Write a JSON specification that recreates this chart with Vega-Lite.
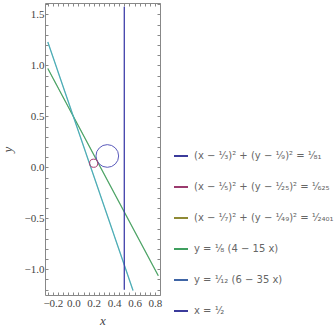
{
  "$schema": "https://vega.github.io/schema/vega-lite/v6.json",
  "width": 115,
  "height": 292,
  "autosize": {"type": "none"},
  "padding": {"left": 45, "top": 3, "right": 175, "bottom": 37},
  "background": "white",
  "config": {
    "view": {"stroke": "#888888", "strokeWidth": 1},
    "axis": {"domain": false, "grid": false, "tickColor": "#888888", "labelOverlap": false, "labelFlush": false, "labelBound": false}
  },
  "datasets": {
    "lines": [
      {"series": "y = ¹⁄₈ (4 − 15 x)", "i": 0, "x": -0.25, "y": 0.96875},
      {"series": "y = ¹⁄₈ (4 − 15 x)", "i": 1, "x": 0.8333, "y": -1.0625},
      {"series": "y = ¹⁄₁₂ (6 − 35 x)", "i": 0, "x": -0.25, "y": 1.2292},
      {"series": "y = ¹⁄₁₂ (6 − 35 x)", "i": 1, "x": 0.5857, "y": -1.2083},
      {"series": "x = ¹⁄₂", "i": 0, "x": 0.5, "y": 1.575},
      {"series": "x = ¹⁄₂", "i": 1, "x": 0.5, "y": -1.2}
    ],
    "circles": [
      {"series": "(x − ¹⁄₃)² + (y − ¹⁄₉)² = ¹⁄₈₁", "x": 0.3333, "y": 0.1111, "r": 0.1111},
      {"series": "(x − ¹⁄₅)² + (y − ¹⁄₂₅)² = ¹⁄₆₂₅", "x": 0.2, "y": 0.04, "r": 0.04}
    ]
  },
  "layer": [
    {
      "data": {"name": "lines"},
      "mark": {"type": "line", "strokeWidth": 0.3},
      "encoding": {
        "x": {
          "field": "x", "type": "quantitative",
          "scale": {"domain": [-0.2775, 0.85], "nice": false, "zero": false},
          "axis": {
            "orient": "bottom",
            "values": [-0.25, -0.2, -0.15, -0.1, -0.05, 0, 0.05, 0.1, 0.15, 0.2, 0.25, 0.3, 0.35, 0.4, 0.45, 0.5, 0.55, 0.6, 0.65, 0.7, 0.75, 0.8, 0.85],
            "labelExpr": "abs(datum.value*5 - round(datum.value*5)) < 0.000001 ? format(datum.value, '.1f') : ''",
            "tickSize": -3,
            "labelFont": "Liberation Serif", "labelFontSize": 11, "labelColor": "#444444", "labelPadding": 5,
            "title": "x", "titleFont": "Liberation Serif", "titleFontStyle": "italic", "titleFontWeight": "normal",
            "titleFontSize": 13, "titleColor": "#444444", "titlePadding": 6
          }
        },
        "y": {
          "field": "y", "type": "quantitative",
          "scale": {"domain": [-1.252, 1.611], "nice": false, "zero": false},
          "axis": {
            "orient": "left",
            "values": [-1.2, -1.1, -1, -0.9, -0.8, -0.7, -0.6, -0.5, -0.4, -0.3, -0.2, -0.1, 0, 0.1, 0.2, 0.3, 0.4, 0.5, 0.6, 0.7, 0.8, 0.9, 1, 1.1, 1.2, 1.3, 1.4, 1.5, 1.6],
            "labelExpr": "abs(datum.value*2 - round(datum.value*2)) < 0.000001 ? format(datum.value, '.1f') : ''",
            "tickSize": -3,
            "labelFont": "Liberation Serif", "labelFontSize": 11, "labelColor": "#444444", "labelPadding": 4,
            "title": "y", "titleFont": "Liberation Serif", "titleFontStyle": "italic", "titleFontWeight": "normal",
            "titleFontSize": 13, "titleColor": "#444444", "titlePadding": 10
          }
        },
        "color": {
          "field": "series", "type": "nominal",
          "scale": {
            "domain": ["(x − ¹⁄₃)² + (y − ¹⁄₉)² = ¹⁄₈₁", "(x − ¹⁄₅)² + (y − ¹⁄₂₅)² = ¹⁄₆₂₅", "(x − ¹⁄₇)² + (y − ¹⁄₄₉)² = ¹⁄₂₄₀₁", "y = ¹⁄₈ (4 − 15 x)", "y = ¹⁄₁₂ (6 − 35 x)", "x = ¹⁄₂"],
            "range": ["#3b3b9b", "#9b3b6e", "#8f8a35", "#3f9f5f", "#3f65a5", "#3b3b9b"]
          },
          "legend": {
            "orient": "none", "legendX": 128, "legendY": 145,
            "title": null, "padding": 0,
            "symbolType": "stroke", "symbolSize": 196, "symbolStrokeWidth": 2,
            "labelFont": "DejaVu Sans", "labelFontSize": 10, "labelColor": "#666666", "labelLimit": 220,
            "labelOffset": 5, "rowPadding": 18
          }
        },
        "order": {"field": "i"}
      }
    },
    {
      "data": {"name": "lines"},
      "mark": {"type": "line", "strokeWidth": 1.2},
      "encoding": {
        "x": {"field": "x", "type": "quantitative", "axis": null},
        "y": {"field": "y", "type": "quantitative", "axis": null},
        "stroke": {
          "field": "series", "type": "nominal",
          "scale": {
            "domain": ["(x − ¹⁄₃)² + (y − ¹⁄₉)² = ¹⁄₈₁", "(x − ¹⁄₅)² + (y − ¹⁄₂₅)² = ¹⁄₆₂₅", "(x − ¹⁄₇)² + (y − ¹⁄₄₉)² = ¹⁄₂₄₀₁", "y = ¹⁄₈ (4 − 15 x)", "y = ¹⁄₁₂ (6 − 35 x)", "x = ¹⁄₂"],
            "range": ["#5a5abb", "#a83c72", "#8f8a35", "#4ba264", "#4aaeb5", "#3b3ba8"]
          },
          "legend": null
        },
        "order": {"field": "i"}
      }
    },
    {
      "data": {"name": "circles"},
      "mark": {"type": "point", "shape": "circle", "filled": false, "strokeWidth": 1, "opacity": 1},
      "encoding": {
        "x": {
          "field": "x", "type": "quantitative",
          "axis": {
            "orient": "top",
            "values": [-0.25, -0.2, -0.15, -0.1, -0.05, 0, 0.05, 0.1, 0.15, 0.2, 0.25, 0.3, 0.35, 0.4, 0.45, 0.5, 0.55, 0.6, 0.65, 0.7, 0.75, 0.8, 0.85],
            "labels": false, "tickSize": -3, "title": null
          }
        },
        "y": {
          "field": "y", "type": "quantitative",
          "axis": {
            "orient": "right",
            "values": [-1.2, -1.1, -1, -0.9, -0.8, -0.7, -0.6, -0.5, -0.4, -0.3, -0.2, -0.1, 0, 0.1, 0.2, 0.3, 0.4, 0.5, 0.6, 0.7, 0.8, 0.9, 1, 1.1, 1.2, 1.3, 1.4, 1.5, 1.6],
            "labels": false, "tickSize": -3, "title": null
          }
        },
        "stroke": {"field": "series", "type": "nominal", "legend": null},
        "size": {
          "field": "r", "type": "quantitative",
          "scale": {"type": "pow", "exponent": 2, "domain": [0, 1], "range": [0, 41616]},
          "legend": null
        }
      }
    }
  ],
  "resolve": {"axis": {"x": "independent", "y": "independent"}}
}
